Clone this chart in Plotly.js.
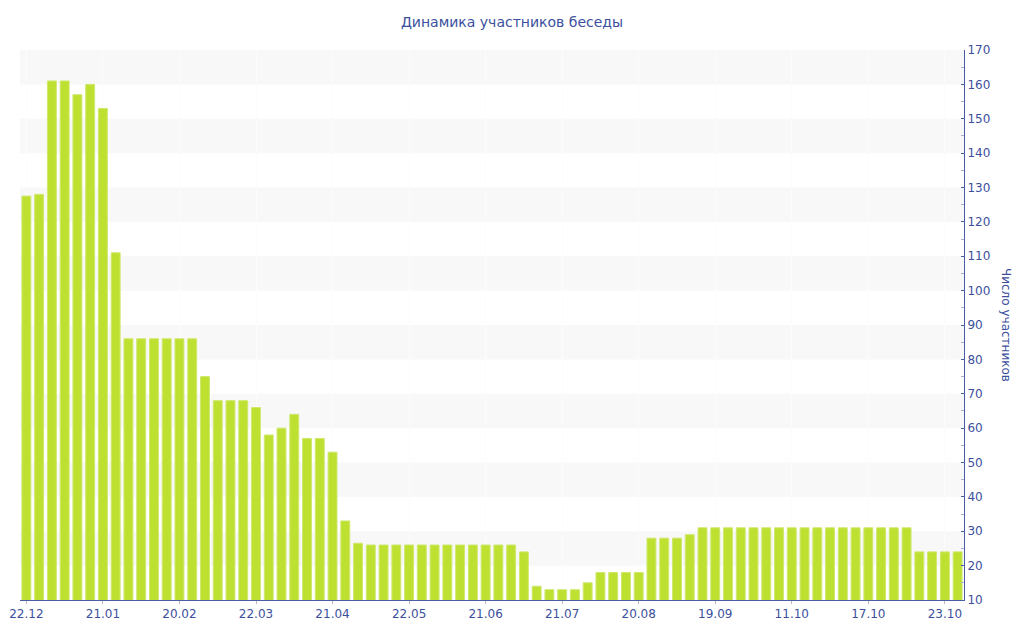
<!DOCTYPE html>
<html>
<head>
<meta charset="utf-8">
<script src="https://cdn.plot.ly/plotly-3.0.1.min.js"></script>
<style>html,body{margin:0;padding:0;background:#fff;}#chart{width:1024px;height:640px;}</style>
</head>
<body>
<div id="chart"></div>
<script>
// Data
const chartTitle = "Динамика участников беседы";
const yAxisTitle = "Число участников";
const participants = [
  127.5, 128, 161, 161, 157, 160, 153, 111,
  86, 86, 86, 86, 86, 86,
  75, 68, 68, 68, 66, 58, 60, 64, 57, 57, 53, 33, 26.5,
  26, 26, 26, 26, 26, 26, 26, 26, 26, 26, 26, 26,
  24, 14, 13, 13, 13, 15, 18, 18, 18, 18,
  28, 28, 28, 29,
  31, 31, 31, 31, 31, 31, 31, 31, 31, 31, 31, 31, 31, 31, 31, 31, 31,
  24, 24, 24, 24
];
const tickLabels = ["22.12","21.01","20.02","22.03","21.04","22.05","21.06","21.07","20.08","19.09","11.10","17.10","23.10"];
const tickStep = 6;
const yMin = 10, yMax = 170, yStep = 10;

const xIdx = participants.map((_, i) => i);
const tickVals = tickLabels.map((_, i) => i * tickStep);

const textColor = '#3b4f9d';
const axisColor = '#4a5ea8';

const bands = [];
for (let v = yMin + yStep; v < yMax; v += 2 * yStep) {
  bands.push({type:'rect', xref:'paper', yref:'y', x0:0, x1:1, y0:v, y1:v + yStep,
    fillcolor:'#f8f8f8', line:{width:0}, layer:'below'});
}

const trace = {
  type:'bar', x:xIdx, y:participants,
  marker:{color:'#bde031', line:{color:'#cfe86e', width:1}},
  hoverinfo:'y'
};

const layout = {
  width:1024, height:640,
  margin:{l:20, r:60, t:50, b:40},
  paper_bgcolor:'#ffffff', plot_bgcolor:'rgba(0,0,0,0)',
  font:{family:'"DejaVu Sans", Verdana, sans-serif', size:12, color:textColor},
  title:{text:chartTitle, x:0.5, xanchor:'center', y:0.965, yanchor:'middle', yref:'container',
    font:{size:14, color:textColor}},
  bargap:0.3,
  showlegend:false,
  xaxis:{range:[-0.5, participants.length - 0.5], tickmode:'array', tickvals:tickVals, ticktext:tickLabels,
    showgrid:true, gridcolor:'#fcfcfc', gridwidth:1, zeroline:false,
    showline:true, linecolor:axisColor, linewidth:1,
    ticks:'outside', ticklen:3, tickcolor:'#bbbbbb', tickfont:{size:12, color:textColor}},
  yaxis:{range:[yMin, yMax], side:'right', dtick:yStep, tick0:yMin, showgrid:false, zeroline:false,
    showline:true, linecolor:axisColor, linewidth:1,
    ticks:'inside', ticklen:3, tickcolor:axisColor,
    minor:{dtick:yStep/2, ticks:'inside', ticklen:3, tickcolor:'#aab3d6', showgrid:false},
    tickfont:{size:12, color:textColor}},
  shapes:bands,
  annotations:[{text:yAxisTitle, xref:'paper', yref:'paper', x:1, xshift:42, y:0.5, textangle:90,
    showarrow:false, xanchor:'center', yanchor:'middle', font:{size:12, color:textColor}}]
};

Plotly.newPlot('chart', [trace], layout, {displayModeBar:false, staticPlot:true});
</script>
</body>
</html>
